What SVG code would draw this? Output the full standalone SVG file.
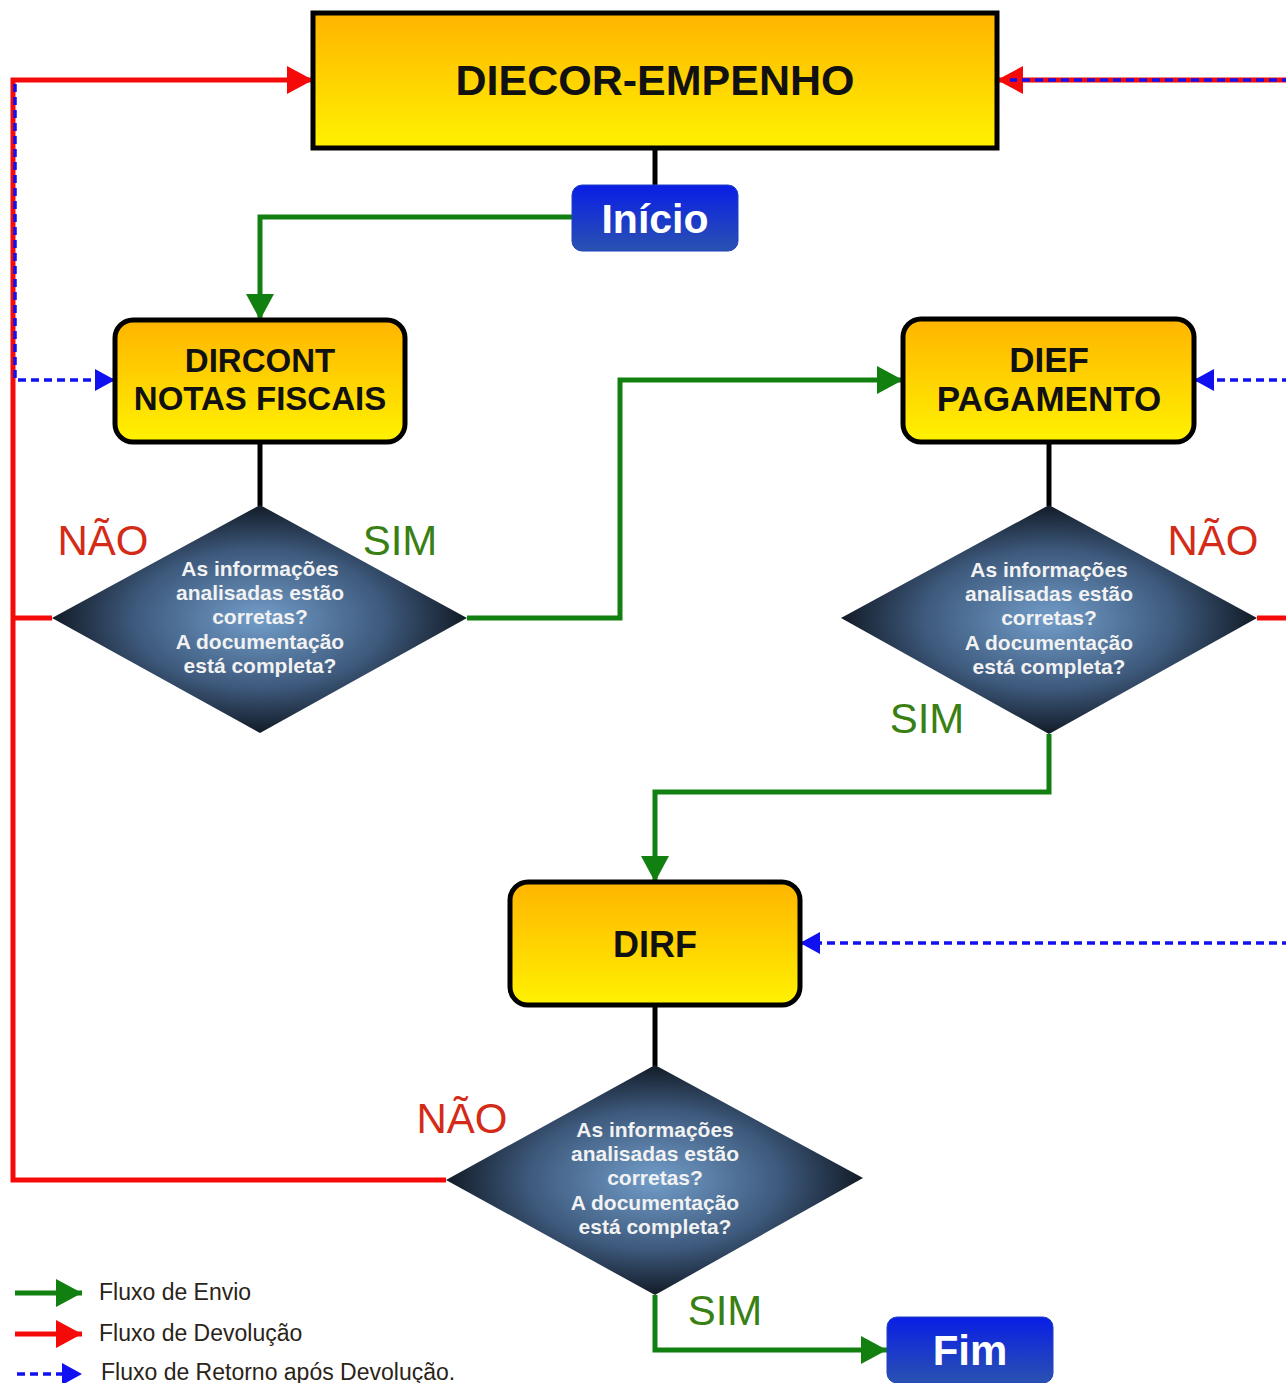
<svg xmlns="http://www.w3.org/2000/svg" width="1286" height="1383" viewBox="0 0 1286 1383">
<defs>
<linearGradient id="yel" x1="0" y1="0" x2="0" y2="1">
<stop offset="0" stop-color="#FFB400"/>
<stop offset="1" stop-color="#FFF200"/>
</linearGradient>
<linearGradient id="blu" x1="0" y1="0" x2="0" y2="1">
<stop offset="0" stop-color="#0A1EE6"/>
<stop offset="1" stop-color="#2A52B0"/>
</linearGradient>
<radialGradient id="dia" cx="0.5" cy="0.5" r="0.5">
<stop offset="0" stop-color="#729DC9"/>
<stop offset="0.6" stop-color="#3E5A7D"/>
<stop offset="1" stop-color="#121B27"/>
</radialGradient>
<marker id="ag" viewBox="0 0 26 28" refX="26" refY="14" markerWidth="26" markerHeight="28" markerUnits="userSpaceOnUse" orient="auto"><path d="M0,0 L26,14 L0,28 z" fill="#118011"/></marker>
<marker id="ar" viewBox="0 0 26 28" refX="26" refY="14" markerWidth="26" markerHeight="28" markerUnits="userSpaceOnUse" orient="auto"><path d="M0,0 L26,14 L0,28 z" fill="#F50A0A"/></marker>
<marker id="ab" viewBox="0 0 20 22" refX="20" refY="11" markerWidth="20" markerHeight="22" markerUnits="userSpaceOnUse" orient="auto"><path d="M0,0 L20,11 L0,22 z" fill="#1010F0"/></marker>
</defs>
<style>
.box{fill:url(#yel);stroke:#000;stroke-width:5}
.btn{fill:url(#blu);stroke:#2040C0;stroke-width:1}
.dia{fill:url(#dia)}
.bt{font-family:"Liberation Sans",Arial,sans-serif;font-weight:bold;fill:#111;text-anchor:middle}
.wt{font-family:"Liberation Sans",Arial,sans-serif;font-weight:bold;fill:#fff;text-anchor:middle}
.dt{font-family:"Liberation Sans",Arial,sans-serif;font-weight:bold;fill:#f2f2f2;text-anchor:middle;font-size:21px}
.nao{font-family:"Liberation Sans",Arial,sans-serif;fill:#D42B18;font-size:42px;text-anchor:middle}
.sim{font-family:"Liberation Sans",Arial,sans-serif;fill:#3A7F14;font-size:42px;text-anchor:middle}
.lg{font-family:"Liberation Sans",Arial,sans-serif;fill:#2a2418;font-size:23px}
.g{fill:none;stroke:#118011;stroke-width:5}
.r{fill:none;stroke:#F50A0A;stroke-width:5}
.b{fill:none;stroke:#1010F0;stroke-width:3.5;stroke-dasharray:8 5}
.k{fill:none;stroke:#000;stroke-width:5}
</style>
<g id="connectors">
<path class="k" d="M655,148 V186"/>
<path class="k" d="M260,442 V506"/>
<path class="k" d="M1049,442 V506"/>
<path class="k" d="M655,1005 V1066"/>
<path class="g" d="M572,217 H260 V320" marker-end="url(#ag)"/>
<path class="g" d="M467,618 H620 V380 H903" marker-end="url(#ag)"/>
<path class="g" d="M1049,734 V792 H655 V882" marker-end="url(#ag)"/>
<path class="g" d="M655,1295 V1350 H887" marker-end="url(#ag)"/>
<path class="r" d="M446,1180 H13 V80 H313" marker-end="url(#ar)"/>
<path class="r" d="M52,618 H13"/>
<path class="r" d="M1257,618 H1290"/>
<path class="r" d="M1290,80 H997" marker-end="url(#ar)"/>
<path class="b" d="M1290,80 H1010"/>
<path class="b" d="M15,84 V380 H115" marker-end="url(#ab)"/>
<path class="b" d="M1290,380 H1194" marker-end="url(#ab)"/>
<path class="b" d="M1290,943 H800" marker-end="url(#ab)"/>
</g>
<g id="diecor">
<rect class="box" x="313" y="13" width="684" height="135"/>
<text class="bt" x="655" y="95" font-size="43">DIECOR-EMPENHO</text>
</g>
<g id="inicio">
<rect class="btn" x="572" y="185" width="166" height="66" rx="10"/>
<text class="wt" x="655" y="233" font-size="41">Início</text>
</g>
<g id="dircont">
<rect class="box" x="115" y="320" width="290" height="122" rx="18"/>
<text class="bt" x="260" y="372" font-size="33">DIRCONT</text>
<text class="bt" x="260" y="410" font-size="33">NOTAS FISCAIS</text>
</g>
<g id="dief">
<rect class="box" x="903" y="319" width="291" height="123" rx="18"/>
<text class="bt" x="1049" y="372" font-size="35">DIEF</text>
<text class="bt" x="1049" y="411" font-size="35">PAGAMENTO</text>
</g>
<g id="dirf">
<rect class="box" x="510" y="882" width="290" height="123" rx="18"/>
<text class="bt" x="655" y="957" font-size="36">DIRF</text>
</g>
<g id="fim">
<rect class="btn" x="887" y="1317" width="166" height="66" rx="10"/>
<text class="wt" x="970" y="1365" font-size="42">Fim</text>
</g>
<g id="decisao1">
<polygon class="dia" points="260,505 467,618 260,733 52,618"/>
<text class="dt" x="260" y="576">As informações</text>
<text class="dt" x="260" y="600">analisadas estão</text>
<text class="dt" x="260" y="624">corretas?</text>
<text class="dt" x="260" y="649">A documentação</text>
<text class="dt" x="260" y="673">está completa?</text>
<text class="nao" x="103" y="555">NÃO</text>
<text class="sim" x="400" y="555">SIM</text>
</g>
<g id="decisao2">
<polygon class="dia" points="1049,505 1257,618 1049,734 841,618"/>
<text class="dt" x="1049" y="577">As informações</text>
<text class="dt" x="1049" y="601">analisadas estão</text>
<text class="dt" x="1049" y="625">corretas?</text>
<text class="dt" x="1049" y="650">A documentação</text>
<text class="dt" x="1049" y="674">está completa?</text>
<text class="nao" x="1213" y="555">NÃO</text>
<text class="sim" x="927" y="733">SIM</text>
</g>
<g id="decisao3">
<polygon class="dia" points="655,1065 863,1178 655,1295 446,1180"/>
<text class="dt" x="655" y="1137">As informações</text>
<text class="dt" x="655" y="1161">analisadas estão</text>
<text class="dt" x="655" y="1185">corretas?</text>
<text class="dt" x="655" y="1210">A documentação</text>
<text class="dt" x="655" y="1234">está completa?</text>
<text class="nao" x="462" y="1133">NÃO</text>
<text class="sim" x="725" y="1325">SIM</text>
</g>
<g id="legenda">
<path class="g" d="M15,1293 H82" marker-end="url(#ag)"/>
<path class="r" d="M15,1334 H82" marker-end="url(#ar)"/>
<path class="b" d="M17,1374 H82" marker-end="url(#ab)"/>
<text class="lg" x="99" y="1300">Fluxo de Envio</text>
<text class="lg" x="99" y="1341">Fluxo de Devolução</text>
<text class="lg" x="101" y="1380">Fluxo de Retorno após Devolução.</text>
</g>
</svg>
